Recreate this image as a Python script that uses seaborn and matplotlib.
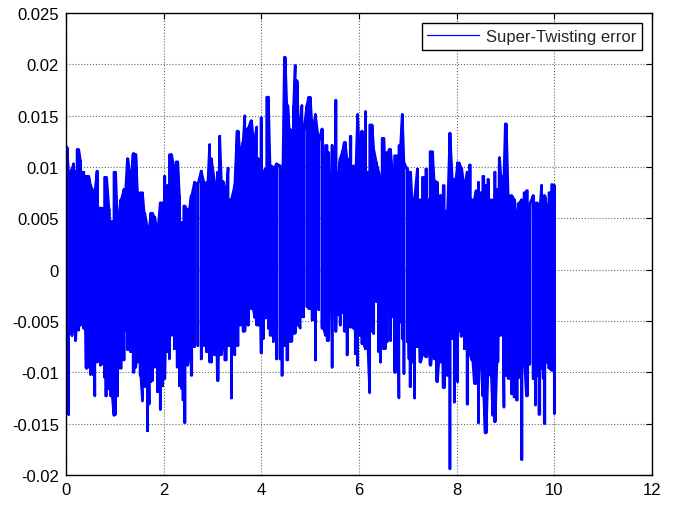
import matplotlib
matplotlib.use('Agg')
import matplotlib.pyplot as plt
import numpy as np
import pandas as pd
import seaborn as sns

# upper peaks of the error trace (time, value)
t_upper = [0.02, 0.055, 0.124, 0.158, 0.199, 0.241, 0.296, 0.364, 0.433, 0.502,
           0.570, 0.639, 0.708, 0.811, 0.880, 0.948, 1.003, 1.052, 1.120, 1.189,
           1.258, 1.326, 1.375, 1.430, 1.464, 1.533, 1.601, 1.670, 1.739, 1.808,
           1.876, 1.931, 1.979, 2.027, 2.082, 2.151, 2.220, 2.275, 2.323, 2.392,
           2.426, 2.495, 2.564, 2.632, 2.701, 2.770, 2.838, 2.873, 2.942, 2.976,
           3.045, 3.113, 3.148, 3.182, 3.251, 3.320, 3.388, 3.457, 3.505, 3.560,
           3.629, 3.663, 3.732, 3.787, 3.835, 3.904, 3.938, 4.007, 4.041, 4.076,
           4.144, 4.179, 4.247, 4.316, 4.385, 4.419, 4.474, 4.522, 4.570, 4.625,
           4.660, 4.694, 4.729, 4.763, 4.832, 4.866, 4.935, 4.969, 5.038, 5.107,
           5.175, 5.244, 5.278, 5.347, 5.381, 5.450, 5.533, 5.588,
           5.615, 5.670, 5.698, 5.753, 5.835, 5.890, 5.924, 5.973, 6.014, 6.062,
           6.096, 6.137, 6.179, 6.247, 6.302, 6.357, 6.405, 6.440, 6.495, 6.543,
           6.577, 6.646, 6.701, 6.749, 6.838, 6.887, 6.921, 6.990, 7.045, 7.093,
           7.141, 7.196, 7.265, 7.320, 7.388, 7.436, 7.471, 7.540, 7.608, 7.677,
           7.746, 7.801, 7.863, 7.918, 7.952, 8.021, 8.089, 8.158, 8.213, 8.282,
           8.330, 8.399, 8.447, 8.502, 8.557, 8.605, 8.653, 8.708, 8.790, 8.845,
           8.873, 8.914, 8.955, 8.997, 9.052, 9.120, 9.175, 9.223, 9.271, 9.326,
           9.395, 9.450, 9.498, 9.567, 9.636, 9.684, 9.739, 9.794, 9.842, 9.911,
           9.959, 10.0]
e_upper = [0.0119, 0.0093, 0.0098, 0.0103, 0.0096, 0.0117, 0.0106, 0.0095, 0.0091, 0.0082,
           0.0075, 0.0096, 0.0060, 0.0090, 0.0059, 0.0047, 0.0095, 0.0049, 0.0068, 0.0078,
           0.0108, 0.0082, 0.0113, 0.0112, 0.0075, 0.0075, 0.0055, 0.0039, 0.0055, 0.0051,
           0.0034, 0.0065, 0.0065, 0.0091, 0.0082, 0.0112, 0.0095, 0.0105, 0.0072, 0.0046,
           0.0062, 0.0059, 0.0072, 0.0085, 0.0083, 0.0096, 0.0082, 0.0085, 0.0122, 0.0108,
           0.0085, 0.0095, 0.0130, 0.0086, 0.0078, 0.0099, 0.0068, 0.0082, 0.0135, 0.0114,
           0.0125, 0.0150, 0.0137, 0.0145, 0.0127, 0.0139, 0.0108, 0.0148, 0.0086, 0.0098,
           0.0168, 0.0101, 0.0098, 0.0103, 0.0101, 0.0068, 0.0207, 0.0160, 0.0137, 0.0129,
           0.0158, 0.0199, 0.0184, 0.0140, 0.0160, 0.0134, 0.0160, 0.0168, 0.0140, 0.0151,
           0.0125, 0.0137, 0.0077, 0.0121, 0.0114, 0.0121, 0.0165, 0.0095,
           0.0108, 0.0116, 0.0124, 0.0108, 0.0130, 0.0101, 0.0078, 0.0151, 0.0108, 0.0135,
           0.0068, 0.0154, 0.0095, 0.0141, 0.0117, 0.0104, 0.0095, 0.0086, 0.0128, 0.0086,
           0.0114, 0.0117, 0.0086, 0.0111, 0.0121, 0.0151, 0.0104, 0.0098, 0.0095, 0.0060,
           0.0070, 0.0098, 0.0068, 0.0090, 0.0098, 0.0068, 0.0115, 0.0086, 0.0085, 0.0072,
           0.0082, 0.0057, 0.0133, 0.0082, 0.0088, 0.0104, 0.0099, 0.0078, 0.0095, 0.0102,
           0.0068, 0.0077, 0.0085, 0.0075, 0.0091, 0.0082, 0.0088, 0.0068, 0.0095, 0.0078,
           0.0109, 0.0085, 0.0091, 0.0142, 0.0078, 0.0072, 0.0068, 0.0047, 0.0065, 0.0068,
           0.0075, 0.0077, 0.0064, 0.0072, 0.0065, 0.0057, 0.0082, 0.0072, 0.0062, 0.0075,
           0.0083, 0.0082]

# lower troughs of the error trace (time, value)
t_lower = [0.021, 0.055, 0.089, 0.124, 0.158, 0.192, 0.227, 0.261, 0.296, 0.330,
           0.364, 0.412, 0.467, 0.502, 0.570, 0.591, 0.639, 0.674, 0.708, 0.742,
           0.790, 0.832, 0.880, 0.914, 0.983, 1.017, 1.052, 1.086, 1.134, 1.189,
           1.223, 1.271, 1.326, 1.395, 1.430, 1.464, 1.519, 1.567, 1.615, 1.670,
           1.704, 1.739, 1.773, 1.821, 1.876, 1.931, 1.979, 2.014, 2.082, 2.117,
           2.165, 2.220, 2.254, 2.289, 2.323, 2.371, 2.412, 2.440, 2.481, 2.529,
           2.577, 2.632, 2.701, 2.770, 2.838, 2.907, 2.976, 3.045, 3.100, 3.148,
           3.216, 3.285, 3.354, 3.388, 3.457, 3.526, 3.581, 3.629, 3.698, 3.732,
           3.801, 3.869, 3.938, 3.993, 4.041, 4.110, 4.144, 4.213, 4.247, 4.316,
           4.385, 4.433, 4.488, 4.543, 4.591, 4.660, 4.729, 4.797, 4.866, 4.935,
           5.003, 5.072, 5.107, 5.175, 5.244, 5.313, 5.368, 5.450, 5.519, 5.588,
           5.615, 5.670, 5.718, 5.766, 5.821, 5.890, 5.924, 5.973, 6.027, 6.062,
           6.131, 6.165, 6.220, 6.268, 6.302, 6.357, 6.405, 6.440, 6.474, 6.509,
           6.577, 6.612, 6.646, 6.701, 6.729, 6.784, 6.818, 6.852, 6.887, 6.921,
           6.990, 7.024, 7.058, 7.093, 7.141, 7.196, 7.251, 7.299, 7.368, 7.416,
           7.457, 7.505, 7.574, 7.595, 7.643, 7.677, 7.725, 7.780, 7.814, 7.863,
           7.918, 7.952, 7.986, 8.021, 8.055, 8.103, 8.158, 8.227, 8.261, 8.309,
           8.364, 8.447, 8.488, 8.536, 8.584, 8.639, 8.694, 8.742, 8.777, 8.825,
           8.880, 8.948, 8.969, 9.017, 9.086, 9.134, 9.189, 9.244, 9.292, 9.340,
           9.381, 9.430, 9.498, 9.567, 9.615, 9.656, 9.704, 9.739, 9.773, 9.808,
           9.842, 9.890, 9.945, 10.0]
e_lower = [-0.0077, -0.0141, -0.0062, -0.0064, -0.0060, -0.0069, -0.0041, -0.0059, -0.0054, -0.0052,
           -0.0057, -0.0096, -0.0093, -0.0102, -0.0103, -0.0123, -0.0090, -0.0077, -0.0093, -0.0092,
           -0.0105, -0.0123, -0.0116, -0.0123, -0.0142, -0.0141, -0.0123, -0.0096, -0.0096, -0.0088,
           -0.0059, -0.0078, -0.0080, -0.0100, -0.0095, -0.0090, -0.0103, -0.0128, -0.0114, -0.0157,
           -0.0131, -0.0109, -0.0108, -0.0095, -0.0119, -0.0136, -0.0113, -0.0106, -0.0080, -0.0087,
           -0.0064, -0.0077, -0.0067, -0.0095, -0.0113, -0.0116, -0.0127, -0.0149, -0.0093, -0.0082,
           -0.0103, -0.0075, -0.0074, -0.0087, -0.0074, -0.0080, -0.0090, -0.0083, -0.0108, -0.0083,
           -0.0072, -0.0088, -0.0074, -0.0125, -0.0083, -0.0074, -0.0054, -0.0060, -0.0038, -0.0054,
           -0.0038, -0.0047, -0.0054, -0.0081, -0.0067, -0.0047, -0.0057, -0.0064, -0.0070, -0.0087,
           -0.0087, -0.0103, -0.0074, -0.0088, -0.0070, -0.0062, -0.0054, -0.0057, -0.0046, -0.0036,
           -0.0038, -0.0049, -0.0088, -0.0039, -0.0057, -0.0064, -0.0069, -0.0095, -0.0060, -0.0044,
           -0.0054, -0.0042, -0.0060, -0.0083, -0.0056, -0.0057, -0.0082, -0.0093, -0.0064, -0.0072,
           -0.0077, -0.0070, -0.0120, -0.0060, -0.0062, -0.0031, -0.0080, -0.0090, -0.0051, -0.0077,
           -0.0070, -0.0044, -0.0069, -0.0046, -0.0100, -0.0083, -0.0125, -0.0051, -0.0067, -0.0101,
           -0.0070, -0.0087, -0.0114, -0.0090, -0.0125, -0.0075, -0.0090, -0.0082, -0.0085, -0.0054,
           -0.0093, -0.0072, -0.0087, -0.0109, -0.0083, -0.0090, -0.0115, -0.0082, -0.0103, -0.0194,
           -0.0067, -0.0129, -0.0060, -0.0109, -0.0060, -0.0065, -0.0077, -0.0131, -0.0083, -0.0088,
           -0.0111, -0.0149, -0.0093, -0.0123, -0.0159, -0.0103, -0.0100, -0.0142, -0.0148, -0.0090,
           -0.0064, -0.0051, -0.0134, -0.0103, -0.0106, -0.0121, -0.0124, -0.0127, -0.0105, -0.0185,
           -0.0093, -0.0123, -0.0092, -0.0106, -0.0132, -0.0103, -0.0141, -0.0096, -0.0106, -0.0150,
           -0.0090, -0.0096, -0.0098, -0.0140]

x_ticks = [0, 2, 4, 6, 8, 10, 12]
y_ticks = [-0.02, -0.015, -0.01, -0.005, 0, 0.005, 0.01, 0.015, 0.02, 0.025]
y_tick_labels = ['-0.02', '-0.015', '-0.01', '-0.005', '0', '0.005', '0.01', '0.015', '0.02', '0.025']

sns.set_style('white')
plt.rcParams['font.family'] = ['Liberation Sans', 'DejaVu Sans']
plt.rcParams['font.size'] = 12

up = pd.DataFrame({'t': t_upper, 'e': e_upper})
lo = pd.DataFrame({'t': t_lower, 'e': e_lower})
# the real trace swings peak-to-trough at every sample, so pair each
# reading with the nearest reading on the other side of zero
up_p = pd.merge_asof(up, lo.rename(columns={'e': 'opp'}), on='t', direction='nearest')
lo_p = pd.merge_asof(lo, up.rename(columns={'e': 'opp'}), on='t', direction='nearest')
pairs = pd.concat([up_p, lo_p]).sort_values('t', kind='stable')
trace = pd.DataFrame({
    't': np.repeat(pairs['t'].to_numpy(), 2),
    'e': np.column_stack([pairs['e'].to_numpy(), pairs['opp'].to_numpy()]).ravel(),
})

fig = plt.figure(figsize=(6.78, 5.06), dpi=100)
ax = fig.add_axes([0.0973, 0.0593, 0.8643, 0.913])

sns.lineplot(data=trace, x='t', y='e', estimator=None, sort=False, color='#0000ff',
             linewidth=1.9, label='Super-Twisting error', ax=ax)

ax.set_xlim(0, 12)
ax.set_ylim(-0.02, 0.025)
ax.set_xticks(x_ticks)
ax.set_yticks(y_ticks)
ax.set_yticklabels(y_tick_labels)
ax.set_xlabel('')
ax.set_ylabel('')
ax.grid(True, linestyle=':', color='#666666', linewidth=0.8)
ax.tick_params(direction='in', length=4, width=0.8, top=True, right=True,
               labelsize=12, colors='black', pad=5)
for s in ax.spines.values():
    s.set_visible(True)
    s.set_color('black')
    s.set_linewidth(1.0)

leg = ax.legend(loc='upper right', frameon=True, fancybox=False, framealpha=1,
                edgecolor='black', fontsize=12, handlelength=3.1, borderaxespad=0.6,
                borderpad=0.35, handletextpad=0.4)
leg.get_frame().set_linewidth(1.0)
leg.get_lines()[0].set_linewidth(0.9)

fig.savefig('out.png', dpi=100)
